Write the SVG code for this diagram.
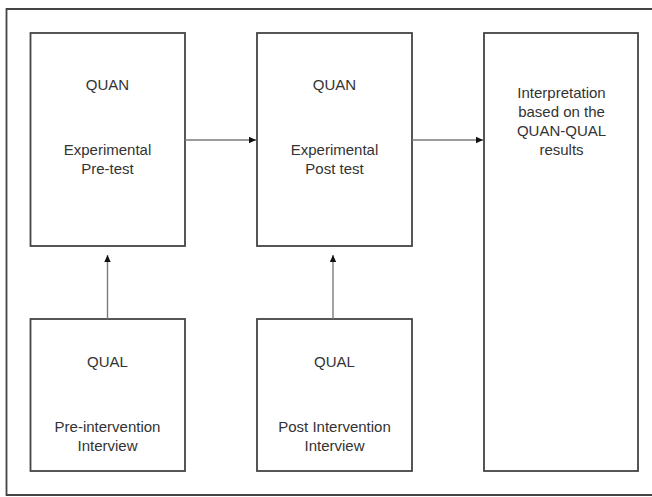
<svg xmlns="http://www.w3.org/2000/svg" width="652" height="497" viewBox="0 0 652 497">
<style>
.box{fill:#fff;stroke:#444;stroke-width:1.8}
.t{font-family:"Liberation Sans",Arial,sans-serif;font-size:15px;fill:#333;text-anchor:middle}
.c{stroke:#7a7a7a;stroke-width:1.4;fill:none}
</style>
<defs>
<marker id="ah" markerWidth="8" markerHeight="8" refX="7" refY="4" orient="auto" markerUnits="userSpaceOnUse">
<path d="M0,0.8 L7,4 L0,7.2 Z" fill="#111"/>
</marker>
</defs>
<rect x="0" y="0" width="652" height="497" fill="#fff"/>
<path d="M660,9 H6.5 V495 H660" fill="none" stroke="#444" stroke-width="1.8"/>
<g id="n1">
<rect class="box" x="30.5" y="33" width="154.5" height="213"/>
<text class="t" x="107.5" y="90">QUAN</text>
<text class="t" x="107.5" y="155">Experimental</text>
<text class="t" x="107.5" y="174">Pre-test</text>
</g>
<g id="n2">
<rect class="box" x="257" y="33" width="155" height="213"/>
<text class="t" x="334.5" y="90">QUAN</text>
<text class="t" x="334.5" y="155">Experimental</text>
<text class="t" x="334.5" y="174">Post test</text>
</g>
<g id="n3">
<rect class="box" x="484" y="33" width="154" height="438"/>
<text class="t" x="561.5" y="98">Interpretation</text>
<text class="t" x="561.5" y="117">based on the</text>
<text class="t" x="561.5" y="136">QUAN-QUAL</text>
<text class="t" x="561.5" y="155">results</text>
</g>
<g id="n4">
<rect class="box" x="30.5" y="319" width="154.5" height="152"/>
<text class="t" x="107.5" y="367">QUAL</text>
<text class="t" x="107.5" y="432">Pre-intervention</text>
<text class="t" x="107.5" y="451">Interview</text>
</g>
<g id="n5">
<rect class="box" x="257" y="319" width="155" height="152"/>
<text class="t" x="334.5" y="367">QUAL</text>
<text class="t" x="334.5" y="432">Post Intervention</text>
<text class="t" x="334.5" y="451">Interview</text>
</g>
<g id="connectors">
<line class="c" x1="185" y1="140" x2="256" y2="140" marker-end="url(#ah)"/>
<line class="c" x1="412" y1="140" x2="483" y2="140" marker-end="url(#ah)"/>
<line class="c" x1="107.5" y1="319" x2="107.5" y2="255" marker-end="url(#ah)"/>
<line class="c" x1="333" y1="319" x2="333" y2="255" marker-end="url(#ah)"/>
</g>
</svg>
